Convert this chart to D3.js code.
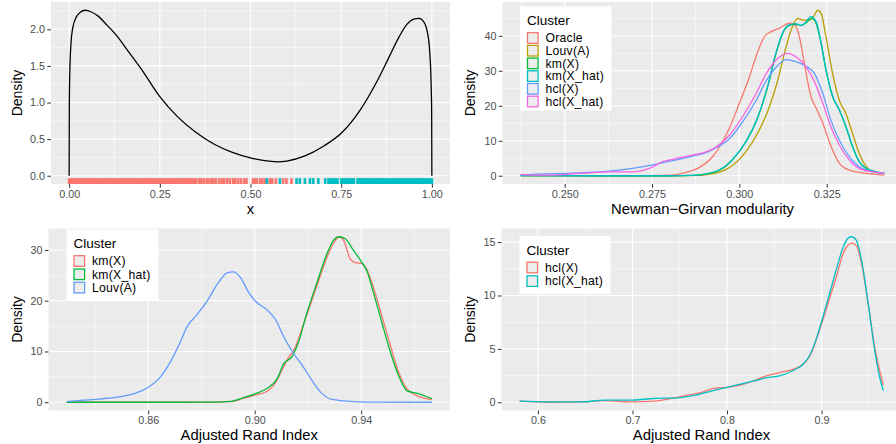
<!DOCTYPE html>
<html>
<head>
<meta charset="utf-8">
<script src="https://cdn.jsdelivr.net/npm/d3@7"></script>
<style>
body { margin: 0; background: #fff; }
svg { display: block; font-family: "Liberation Sans", Arial, sans-serif; }
</style>
</head>
<body>
<div id="chart"></div>
<script>
// ------------------------------------------------ Data -----------------------------------------------------------------------

// top left: density of x + rug coloured by cluster
var beta_x = [0, 0.0005, 0.002, 0.005, 0.01, 0.02, 0.03, 0.045, 0.06, 0.08, 0.1, 0.13, 0.16, 0.2, 0.25, 0.3, 0.35, 0.4, 0.45, 0.5,
              0.55, 0.575, 0.6, 0.65, 0.7, 0.75, 0.8, 0.85, 0.88, 0.91, 0.93, 0.95, 0.965, 0.978, 0.988, 0.994, 0.998, 0.9995, 1.0]
var beta_density = [0, 0.95, 1.45, 1.8, 2.02, 2.17, 2.23, 2.26, 2.24, 2.18, 2.08, 1.92, 1.72, 1.45, 1.08, 0.8, 0.59, 0.43, 0.32, 0.245,
                    0.2, 0.19, 0.2, 0.27, 0.4, 0.58, 0.88, 1.3, 1.6, 1.9, 2.06, 2.14, 2.15, 2.1, 1.95, 1.7, 1.25, 0.85, 0]
var rug_cluster1 = [0.000, 0.005, 0.010, 0.015, 0.020, 0.025, 0.030, 0.035, 0.040, 0.045, 0.050, 0.055, 0.060, 0.065, 0.070, 0.075,
                    0.080, 0.085, 0.090, 0.095, 0.100, 0.105, 0.110, 0.115, 0.120, 0.125, 0.130, 0.135, 0.140, 0.145, 0.150, 0.155,
                    0.160, 0.165, 0.170, 0.175, 0.180, 0.185, 0.190, 0.195, 0.200, 0.205, 0.210, 0.215, 0.220, 0.225, 0.230, 0.235,
                    0.240, 0.245, 0.250, 0.255, 0.260, 0.265, 0.270, 0.275, 0.280, 0.285, 0.290, 0.295, 0.300, 0.305, 0.310, 0.315,
                    0.320, 0.325, 0.330, 0.335, 0.340, 0.345, 0.350,
                    0.358, 0.364, 0.371, 0.379, 0.384, 0.392, 0.398, 0.405, 0.414, 0.421, 0.427, 0.435, 0.443, 0.452, 0.458, 0.466,
                    0.474, 0.483, 0.489, 0.507, 0.512, 0.518, 0.527, 0.533, 0.540, 0.553, 0.560, 0.570, 0.590, 0.599, 0.613]
var rug_cluster2 = [0.545, 0.581, 0.627, 0.636, 0.650, 0.664, 0.673, 0.687, 0.706,
                    0.715, 0.720, 0.725, 0.730, 0.735, 0.740, 0.750, 0.755, 0.760, 0.765, 0.770, 0.775, 0.780, 0.785, 0.795,
                    0.800, 0.805, 0.810, 0.815, 0.820, 0.825, 0.830, 0.835, 0.840, 0.845, 0.850, 0.855, 0.860, 0.865, 0.870,
                    0.875, 0.880, 0.885, 0.890, 0.895, 0.900, 0.905, 0.910, 0.915, 0.920, 0.925, 0.930, 0.935, 0.940, 0.945,
                    0.950, 0.955, 0.960, 0.965, 0.970, 0.975, 0.980, 0.985, 0.990, 0.995, 1.000]
var p1_xticks = [0, 0.25, 0.5, 0.75, 1]
var p1_yticks = [0, 0.5, 1, 1.5, 2]

// top right: Newman-Girvan modularity densities
var ngm_names = ["Oracle", "Louv(A)", "km(X)", "km(X_hat)", "hcl(X)", "hcl(X_hat)"]
var ngm_oracle = [[0.2374,0.05],[0.25,0.03],[0.265,0.02],[0.275,0.05],[0.2805,0.2],[0.2845,0.9],[0.2886,2.4],[0.2924,5.5],[0.2948,9.0],
  [0.2971,13.5],[0.300,20.7],[0.3029,28.3],[0.3052,35.3],[0.3072,39.8],[0.3091,41.2],[0.3115,42.2],[0.3143,43.6],[0.3158,43.2],
  [0.3172,39.7],[0.3186,32.1],[0.3205,22.6],[0.322,19.3],[0.3239,15.0],[0.3262,8.5],[0.3286,3.6],[0.3315,1.6],[0.3363,0.7],[0.3415,0.2]]
var ngm_louv = [[0.2374,0.02],[0.26,0.0],[0.28,0.0],[0.2886,0.1],[0.2905,0.3],[0.2943,1.0],[0.2962,1.8],[0.2981,3.0],[0.3019,6.9],
  [0.3052,12.1],[0.3086,19.7],[0.311,27.3],[0.3129,35.0],[0.3148,41.6],[0.3167,45.0],[0.3181,44.5],[0.32,44.5],[0.3215,45.9],
  [0.3224,47.3],[0.3234,46.4],[0.3248,39.7],[0.3267,29.2],[0.3286,21.6],[0.3305,17.8],[0.3324,12.1],[0.3343,6.4],[0.3368,2.1],
  [0.3391,1.1],[0.3415,0.7]]
var ngm_km = [[0.2374,0.02],[0.26,0.0],[0.28,0.0],[0.2866,0.1],[0.2905,0.5],[0.2943,1.6],[0.2962,2.8],[0.2981,4.6],[0.3019,9.7],
  [0.3052,16.4],[0.3081,25.4],[0.3105,35.0],[0.3124,40.7],[0.3143,43.0],[0.3162,43.3],[0.3176,42.9],[0.3191,43.7],[0.3208,45.0],
  [0.322,43.5],[0.3234,37.8],[0.3248,30.2],[0.3267,22.6],[0.3286,18.8],[0.3305,14.0],[0.3324,8.3],[0.3343,4.0],[0.3362,2.1],
  [0.3391,1.1],[0.3415,0.7]]
var ngm_km_hat = [[0.2374,0.02],[0.26,0.0],[0.28,0.0],[0.2866,0.1],[0.2905,0.5],[0.2943,1.7],[0.2962,2.9],[0.2981,4.7],[0.3019,9.8],
  [0.3052,16.6],[0.3081,25.6],[0.3105,35.2],[0.3124,40.9],[0.3143,43.2],[0.3162,43.4],[0.3176,43.0],[0.3191,44.0],[0.3205,45.5],
  [0.322,44.0],[0.3234,38.0],[0.3248,30.4],[0.3267,22.8],[0.3286,18.9],[0.3305,14.1],[0.3324,8.4],[0.3343,4.1],[0.3362,2.2],
  [0.3391,1.1],[0.3415,0.7]]
var ngm_hcl = [[0.2374,0.2],[0.2408,0.4],[0.2504,0.7],[0.258,1.0],[0.2628,1.3],[0.2695,2.1],[0.2752,3.1],[0.2809,4.3],[0.2866,5.6],
  [0.2905,6.6],[0.2933,8.0],[0.2971,10.5],[0.301,15.5],[0.3048,21.5],[0.3076,27.0],[0.3105,31.0],[0.3134,33.2],[0.3162,32.6],
  [0.3191,31.3],[0.3215,29.2],[0.3239,23.5],[0.3262,15.9],[0.3286,10.2],[0.3315,5.4],[0.3343,2.6],[0.3382,1.1],[0.3415,0.7]]
var ngm_hcl_hat = [[0.2374,0.4],[0.2408,0.2],[0.2456,0.2],[0.2504,0.4],[0.258,0.9],[0.2628,1.1],[0.2695,1.1],[0.2742,2.1],[0.2781,4.0],
  [0.2809,4.7],[0.2866,5.9],[0.2905,6.8],[0.2933,8.2],[0.2971,11.5],[0.301,17.0],[0.3048,23.5],[0.3076,29.0],[0.311,33.5],
  [0.3138,35.0],[0.3162,34.0],[0.3191,31.1],[0.3215,26.9],[0.3239,20.7],[0.3262,14.0],[0.3286,8.8],[0.3315,4.5],[0.3343,2.1],
  [0.3382,1.1],[0.3415,0.7]]
var p2_xticks = [0.250, 0.275, 0.300, 0.325]
var p2_yticks = [0, 10, 20, 30, 40]

// bottom left: ARI densities (km / Louvain)
var ari_names = ["km(X)", "km(X_hat)", "Louv(A)"]
var ari_km = [[0.8294,0.0],[0.85,0.0],[0.87,0.0],[0.885,0.02],[0.8909,0.1],[0.8959,0.8],[0.9009,1.5],[0.9046,2.1],[0.9071,3.3],
  [0.9096,5.6],[0.9121,8.3],[0.9153,10.9],[0.9178,14.6],[0.9209,19.2],[0.924,23.9],[0.9271,28.5],[0.9303,31.9],[0.9319,32.6],
  [0.9334,31.9],[0.9359,28.2],[0.9378,27.5],[0.9403,27.3],[0.9421,26.2],[0.9446,22.6],[0.9478,16.9],[0.9509,11.3],[0.954,6.0],
  [0.9571,2.7],[0.9609,1.3],[0.9665,0.5]]
var ari_km_hat = [[0.8294,0.0],[0.85,0.0],[0.87,0.0],[0.885,0.03],[0.8909,0.15],[0.8959,0.9],[0.9009,1.8],[0.9046,2.7],[0.9084,4.6],
  [0.9109,7.6],[0.914,9.0],[0.9165,11.9],[0.9196,17.6],[0.9234,23.6],[0.9271,29.2],[0.9296,31.9],[0.9315,32.6],[0.934,32.2],
  [0.9371,29.9],[0.9403,27.5],[0.9421,25.9],[0.9446,21.6],[0.9478,15.6],[0.9509,10.0],[0.954,5.3],[0.9571,2.3],[0.9615,1.7],
  [0.9665,0.7]]
var ari_louv = [[0.8294,0.13],[0.8359,0.4],[0.8421,0.66],[0.8484,1.0],[0.8546,1.7],[0.8596,2.8],[0.8646,5.0],[0.8684,8.0],
  [0.8721,11.9],[0.8746,14.9],[0.8784,17.3],[0.8821,19.9],[0.8859,23.2],[0.8896,25.5],[0.8921,25.7],[0.8946,24.6],[0.8978,21.6],
  [0.9003,19.9],[0.9046,18.2],[0.9078,16.3],[0.9109,12.9],[0.9146,9.6],[0.9178,7.3],[0.9215,4.3],[0.9253,1.7],[0.9296,0.5],
  [0.9371,0.13],[0.9471,0.02],[0.9665,0.0]]
var p3_xticks = [0.86, 0.90, 0.94]
var p3_yticks = [0, 10, 20, 30]

// bottom right: ARI densities (hierarchical)
var hcl_names = ["hcl(X)", "hcl(X_hat)"]
var ari_hcl = [[0.5807,0.1],[0.6105,0.0],[0.6457,0.03],[0.6702,0.15],[0.6983,0.03],[0.7229,0.1],[0.744,0.4],[0.758,0.66],
  [0.7721,0.9],[0.7862,1.3],[0.8002,1.4],[0.8143,1.6],[0.8283,2.0],[0.8424,2.5],[0.8564,2.8],[0.8705,3.1],[0.881,3.6],[0.888,4.4],
  [0.895,6.0],[0.9021,7.9],[0.9091,9.9],[0.9161,11.9],[0.9231,14.0],[0.9284,14.75],[0.9319,14.9],[0.9365,14.7],[0.9425,12.9],
  [0.9495,9.1],[0.9565,5.0],[0.9618,2.85],[0.9653,1.6]]
var ari_hcl_hat = [[0.5807,0.1],[0.6105,0.03],[0.6457,0.03],[0.6702,0.2],[0.6983,0.2],[0.7229,0.35],[0.7475,0.4],[0.7686,0.7],
  [0.7862,1.1],[0.8002,1.4],[0.8143,1.7],[0.8283,2.0],[0.8424,2.3],[0.8564,2.5],[0.8705,3.0],[0.881,3.6],[0.888,4.5],[0.895,6.1],
  [0.9021,8.2],[0.9091,10.4],[0.9161,12.6],[0.9231,14.6],[0.9284,15.4],[0.9319,15.5],[0.9365,15.2],[0.9425,13.2],[0.9495,9.1],
  [0.9565,4.7],[0.9618,2.2],[0.9653,1.1]]
var p4_xticks = [0.6, 0.7, 0.8, 0.9]
var p4_yticks = [0, 5, 10, 15]

// ggplot hue palettes
var hue6 = ["#F8766D", "#B79F00", "#00BA38", "#00BFC4", "#619CFF", "#F564E3"]
var hue3 = ["#F8766D", "#00BA38", "#619CFF"]
var hue2 = ["#F8766D", "#00BFC4"]

// ------------------------------------------------ Drawing -------------------------------------------------
var width = 896
var height = 444

var svg = d3.select("#chart").append("svg")
    .attr("width", width)
    .attr("height", height)

svg.append("rect").attr("width", width).attr("height", height).attr("fill", "#fff")

var panelCount = 0

var drawPanel = function(p) {
    panelCount++
    var all_x = []
    p.series.forEach(function(s) { s.values.forEach(function(d) { all_x.push(d[0]) }) })
    if (p.rug) p.rug.forEach(function(r) { r.values.forEach(function(v) { all_x.push(v) }) })
    var ext = d3.extent(all_x)
    var r = ext[1] - ext[0]
    var ymax = d3.max(p.series, function(s) { return d3.max(s.values, function(d) { return d[1] }) })

    var x = d3.scaleLinear().domain([ext[0] - 0.05 * r, ext[1] + 0.05 * r]).range([p.left, p.left + p.width])
    var y = d3.scaleLinear().domain([-0.05 * ymax, 1.05 * ymax]).range([p.top + p.height, p.top])

    var g = svg.append("g")
    var clipId = "clip" + panelCount
    g.append("clipPath").attr("id", clipId).append("rect")
        .attr("x", p.left).attr("y", p.top).attr("width", p.width).attr("height", p.height)

    g.append("rect")
        .attr("x", p.left).attr("y", p.top)
        .attr("width", p.width).attr("height", p.height)
        .attr("fill", "#EBEBEB")

    // minor grid halfway between majors
    var xstep = p.xticks[1] - p.xticks[0]
    var ystep = p.yticks[1] - p.yticks[0]
    var xminor = d3.range(p.xticks[0] - xstep / 2, p.xticks[p.xticks.length - 1] + xstep, xstep)
        .filter(function(v) { return v > x.domain()[0] && v < x.domain()[1] })
    var yminor = d3.range(p.yticks[0] - ystep / 2, p.yticks[p.yticks.length - 1] + ystep, ystep)
        .filter(function(v) { return v > y.domain()[0] && v < y.domain()[1] })

    var grid = g.append("g").attr("clip-path", "url(#" + clipId + ")")
    grid.selectAll(".xmin").data(xminor).enter().append("line")
        .attr("x1", x).attr("x2", x).attr("y1", p.top).attr("y2", p.top + p.height)
        .attr("stroke", "#fff").attr("stroke-width", 0.55)
    grid.selectAll(".ymin").data(yminor).enter().append("line")
        .attr("x1", p.left).attr("x2", p.left + p.width).attr("y1", y).attr("y2", y)
        .attr("stroke", "#fff").attr("stroke-width", 0.55)
    grid.selectAll(".xmaj").data(p.xticks).enter().append("line")
        .attr("x1", x).attr("x2", x).attr("y1", p.top).attr("y2", p.top + p.height)
        .attr("stroke", "#fff").attr("stroke-width", 1.1)
    grid.selectAll(".ymaj").data(p.yticks).enter().append("line")
        .attr("x1", p.left).attr("x2", p.left + p.width).attr("y1", y).attr("y2", y)
        .attr("stroke", "#fff").attr("stroke-width", 1.1)

    // rug
    if (p.rug) {
        p.rug.forEach(function(rg) {
            grid.selectAll(null).data(rg.values).enter().append("line")
                .attr("x1", x).attr("x2", x)
                .attr("y1", p.top + p.height).attr("y2", p.top + p.height - 0.032 * p.height)
                .attr("stroke", rg.color).attr("stroke-width", 2.6)
        })
    }

    // density lines
    var line = d3.line()
        .x(function(d) { return x(d[0]) })
        .y(function(d) { return y(d[1]) })
        .curve(d3.curveMonotoneX)
    p.series.forEach(function(s) {
        grid.append("path")
            .attr("d", line(s.values))
            .attr("fill", "none")
            .attr("stroke", s.color)
            .attr("stroke-width", 1.3)
            .attr("stroke-linejoin", "round")
    })

    // axes
    var xa = g.append("g")
        .attr("transform", "translate(0," + (p.top + p.height) + ")")
        .call(d3.axisBottom(x).tickValues(p.xticks).tickSize(3.7).tickPadding(2.4).tickFormat(d3.format(p.xfmt)))
    var ya = g.append("g")
        .attr("transform", "translate(" + p.left + ",0)")
        .call(d3.axisLeft(y).tickValues(p.yticks).tickSize(3.7).tickPadding(2.2).tickFormat(d3.format(p.yfmt)))
    ;[xa, ya].forEach(function(a) {
        a.select(".domain").remove()
        a.selectAll(".tick line").attr("stroke", "#333333").attr("stroke-width", 1)
        a.selectAll("text").attr("fill", "#4D4D4D").style("font-size", "10.8px").style("font-family", "Liberation Sans, Arial, sans-serif")
    })

    g.append("text")
        .attr("x", p.left + p.width / 2)
        .attr("y", p.top + p.height + 29.5)
        .attr("text-anchor", "middle")
        .style("font-size", "14.8px")
        .attr("fill", "#000")
        .text(p.xtitle)

    g.append("text")
        .attr("transform", "translate(" + p.ytitleX + "," + (p.top + p.height / 2) + ") rotate(-90)")
        .attr("text-anchor", "middle")
        .attr("dy", "0.35em")
        .style("font-size", "14px")
        .attr("fill", "#000")
        .text("Density")

    // legend
    if (p.legend) {
        var L = p.legend
        var lg = g.append("g")
        lg.append("rect")
            .attr("x", L.x).attr("y", L.y).attr("width", L.w).attr("height", L.h)
            .attr("fill", "#fff")
        lg.append("text")
            .attr("x", L.x + 7).attr("y", L.y + 18.5)
            .style("font-size", "13.5px")
            .text("Cluster")
        p.series.forEach(function(s, i) {
            var cy = L.y + 31.5 + i * L.step
            lg.append("rect")
                .attr("x", L.x + 7.5).attr("y", cy - 5.3)
                .attr("width", 10.6).attr("height", 10.6)
                .attr("fill", "#EDEDED")
                .attr("stroke", s.color)
                .attr("stroke-width", 1.3)
            lg.append("text")
                .attr("x", L.x + 25.5).attr("y", cy + 4.3)
                .style("font-size", "12.2px")
                .style("letter-spacing", "0.25px")
                .text(s.name)
        })
    }
}

drawPanel({
    left: 51, top: 2, width: 399, height: 182,
    series: [{ name: "x", color: "#000", values: beta_x.map(function(v, i) { return [v, beta_density[i]] }) }],
    rug: [{ color: "#F8766D", values: rug_cluster1 }, { color: "#00BFC4", values: rug_cluster2 }],
    xticks: p1_xticks, yticks: p1_yticks, xfmt: ".2f", yfmt: ".1f",
    xtitle: "x", ytitleX: 17
})

var ngm_values = [ngm_oracle, ngm_louv, ngm_km, ngm_km_hat, ngm_hcl, ngm_hcl_hat]
drawPanel({
    left: 502.5, top: 2, width: 400, height: 182,
    series: ngm_names.map(function(n, i) { return { name: n, color: hue6[i], values: ngm_values[i] } }),
    xticks: p2_xticks, yticks: p2_yticks, xfmt: ".3f", yfmt: "d",
    xtitle: "Newman\u2212Girvan modularity", ytitleX: 470,
    legend: { x: 520, y: 6.5, w: 91.5, h: 104, step: 12.7 }
})

var ari_values = [ari_km, ari_km_hat, ari_louv]
drawPanel({
    left: 48.5, top: 228.5, width: 401.5, height: 182,
    series: ari_names.map(function(n, i) { return { name: n, color: hue3[i], values: ari_values[i] } }),
    xticks: p3_xticks, yticks: p3_yticks, xfmt: ".2f", yfmt: "d",
    xtitle: "Adjusted Rand Index", ytitleX: 17,
    legend: { x: 66.5, y: 229.5, w: 92, h: 71.5, step: 13.3 }
})

var hcl_values = [ari_hcl, ari_hcl_hat]
drawPanel({
    left: 501.5, top: 228.5, width: 400, height: 182,
    series: hcl_names.map(function(n, i) { return { name: n, color: hue2[i], values: hcl_values[i] } }),
    xticks: p4_xticks, yticks: p4_yticks, xfmt: ".1f", yfmt: "d",
    xtitle: "Adjusted Rand Index", ytitleX: 470,
    legend: { x: 519.5, y: 236, w: 91, h: 58, step: 13.6 }
})
</script>
</body>
</html>
